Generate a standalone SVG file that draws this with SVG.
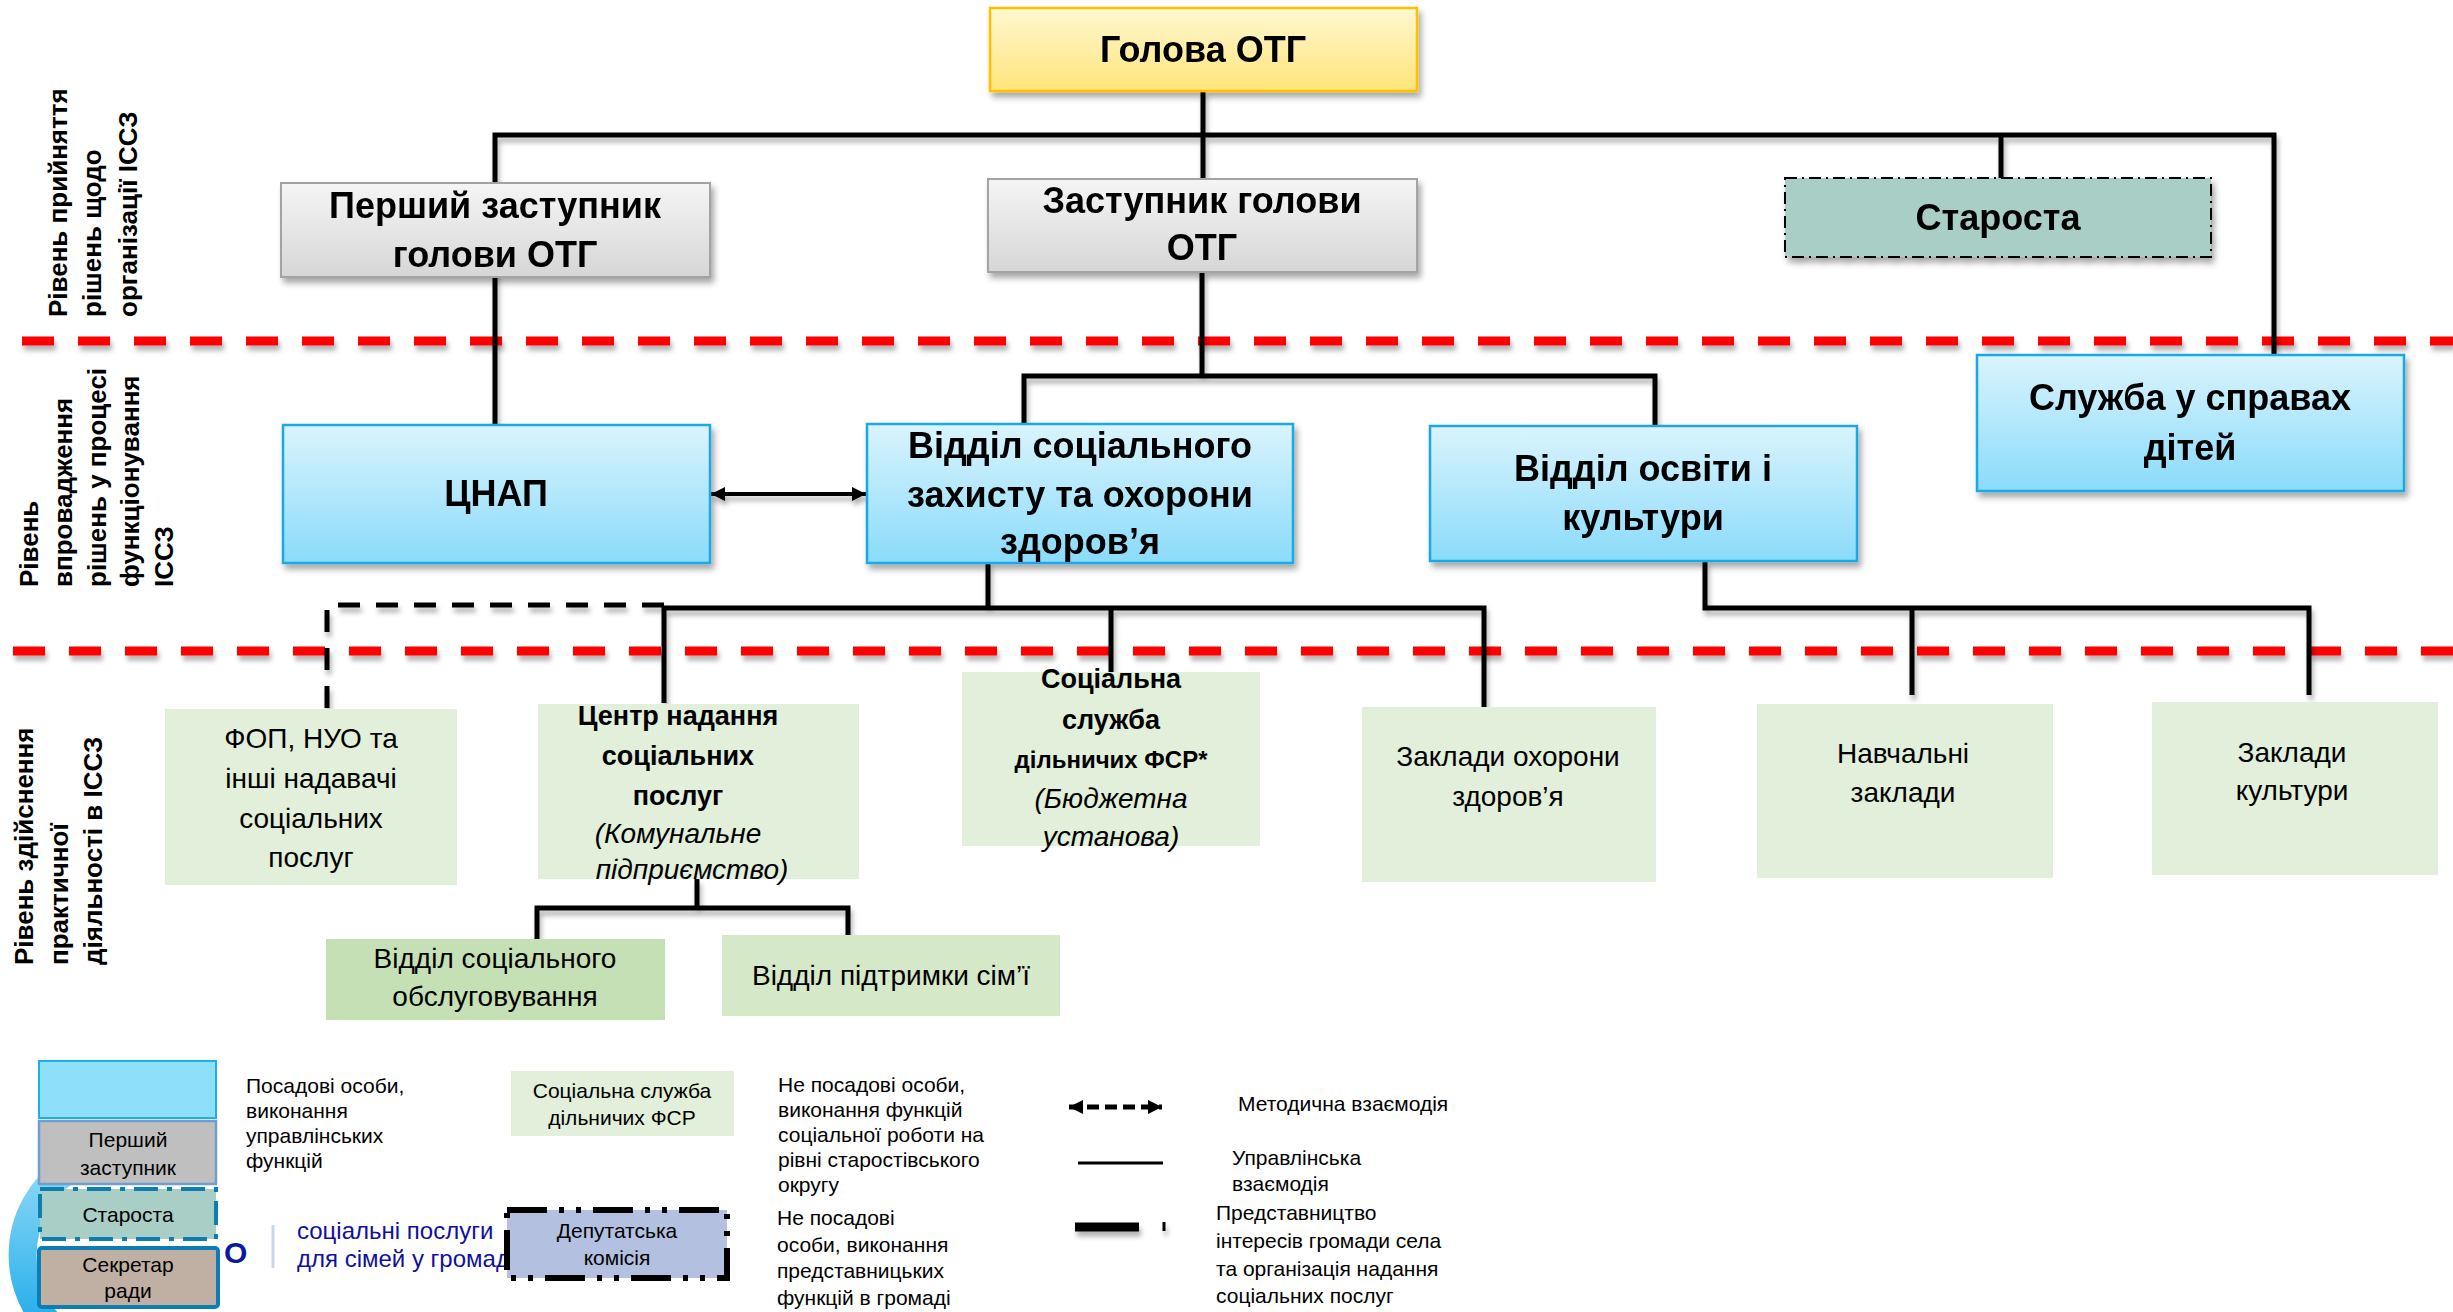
<svg xmlns="http://www.w3.org/2000/svg" width="2453" height="1312" viewBox="0 0 2453 1312">
<style>
text{font-family:"Liberation Sans",Arial,sans-serif;fill:#000}
.c{text-anchor:middle}
.hb{font-size:36px;font-weight:bold}
.b27{font-size:27px;font-weight:bold}
.b24{font-size:24px;font-weight:bold}
.r28{font-size:28px}
.i28{font-size:28px;font-style:italic}
.side{font-size:26px;font-weight:bold}
.lg{font-size:21px}
.logo{font-size:24px;fill:#1010A0}
.conn{fill:none;stroke:#000;stroke-width:5}
.blue{fill:url(#gBlue);stroke:#1AA8E2;stroke-width:2.5}
.grey{fill:url(#gGrey);stroke:#A3A3A3;stroke-width:2}
.green{fill:#E2EFDA}
.red{stroke:#FF0000;stroke-width:9;stroke-dasharray:32 24}
</style>
<defs>
<linearGradient id="gBlue" x1="0" y1="0" x2="0" y2="1"><stop offset="0" stop-color="#DAF4FD"/><stop offset="1" stop-color="#8ADBFA"/></linearGradient>
<linearGradient id="gGrey" x1="0" y1="0" x2="0" y2="1"><stop offset="0" stop-color="#F5F5F5"/><stop offset="1" stop-color="#D6D6D6"/></linearGradient>
<linearGradient id="gYellow" x1="0" y1="0" x2="0" y2="1"><stop offset="0" stop-color="#FFF8D2"/><stop offset="1" stop-color="#FFE47A"/></linearGradient>
<linearGradient id="gArc" x1="0" y1="0" x2="0" y2="1"><stop offset="0" stop-color="#8AD8F6"/><stop offset="1" stop-color="#1AA9E9"/></linearGradient>
<filter id="sh" x="-10%" y="-10%" width="130%" height="140%"><feDropShadow dx="3" dy="5" stdDeviation="3" flood-color="#000" flood-opacity="0.35"/></filter>
<filter id="lsh" filterUnits="userSpaceOnUse" x="0" y="0" width="2453" height="1312"><feDropShadow dx="2" dy="5" stdDeviation="2.5" flood-color="#000" flood-opacity="0.3"/></filter>
<marker id="ah" viewBox="0 0 10 10" refX="10" refY="5" markerWidth="4" markerHeight="3.5" orient="auto-start-reverse"><path d="M0,0 L10,5 L0,10 z" fill="#000"/></marker>
<marker id="ah2" viewBox="0 0 10 10" refX="10" refY="5" markerWidth="3" markerHeight="2.8" orient="auto-start-reverse"><path d="M0,0 L10,5 L0,10 z" fill="#000"/></marker>
</defs>
<rect width="2453" height="1312" fill="#fff"/>

<!-- level separators -->
<g id="separators" filter="url(#lsh)">
<line class="red" x1="22" y1="341" x2="2453" y2="341"/>
<line class="red" x1="13" y1="651" x2="2453" y2="651"/>
</g>

<!-- side labels -->
<g id="label-level1" class="side">
<text transform="translate(67,317) rotate(-90)">Рівень прийняття</text>
<text transform="translate(101,317) rotate(-90)">рішень щодо</text>
<text transform="translate(137,317) rotate(-90)">організації ІССЗ</text>
</g>
<g id="label-level2" class="side">
<text transform="translate(38,587) rotate(-90)">Рівень</text>
<text transform="translate(72,587) rotate(-90)">впровадження</text>
<text transform="translate(106,587) rotate(-90)">рішень у процесі</text>
<text transform="translate(139,587) rotate(-90)">функціонування</text>
<text transform="translate(173,587) rotate(-90)">ІССЗ</text>
</g>
<g id="label-level3" class="side">
<text transform="translate(33,965) rotate(-90)">Рівень здійснення</text>
<text transform="translate(68,965) rotate(-90)">практичної</text>
<text transform="translate(102,965) rotate(-90)">діяльності в ІССЗ</text>
</g>

<!-- connectors -->
<g id="connectors" filter="url(#lsh)">
<path class="conn" d="M495 425 V135 H2274 V355"/>
<path class="conn" d="M1203 91 V179"/>
<path class="conn" d="M2001 135 V178"/>
<path class="conn" d="M1202 272 V376"/>
<path class="conn" d="M1024 425 V376 H1655 V426"/>
<path class="conn" d="M988 563 V608"/>
<path class="conn" d="M664 703 V608 H1484 V707"/>
<path class="conn" d="M1111 608 V672"/>
<path class="conn" d="M664 605 H327 V709" stroke-dasharray="22 16"/>
<path class="conn" d="M1705 561 V608 H2309 V695"/>
<path class="conn" d="M1912 608 V695"/>
<path class="conn" d="M697 879 V908"/>
<path class="conn" d="M537 939 V908 H848 V935"/>
<line x1="711" y1="494" x2="866" y2="494" stroke="#000" stroke-width="4" marker-start="url(#ah)" marker-end="url(#ah)"/>
</g>

<!-- level 1 -->
<g id="holova" filter="url(#sh)">
<rect x="990" y="8" width="427" height="83" fill="url(#gYellow)" stroke="#FFC000" stroke-width="2.5"/>
<text class="c hb" x="1203" y="62">Голова ОТГ</text>
</g>
<g id="pershyi-zastupnyk" filter="url(#sh)">
<rect class="grey" x="281" y="183" width="429" height="94"/>
<text class="c hb" x="495" y="218">Перший заступник</text>
<text class="c hb" x="495" y="267">голови ОТГ</text>
</g>
<g id="zastupnyk" filter="url(#sh)">
<rect class="grey" x="988" y="179" width="429" height="93"/>
<text class="c hb" x="1202" y="213">Заступник голови</text>
<text class="c hb" x="1202" y="260">ОТГ</text>
</g>
<g id="starosta" filter="url(#sh)">
<rect x="1785" y="178" width="426" height="79" fill="#A8CEC5" stroke="#000" stroke-width="2" stroke-dasharray="12 5 2 5"/>
<text class="c hb" x="1998" y="230">Староста</text>
</g>

<!-- level 2 -->
<g id="sluzhba-dity" filter="url(#sh)">
<rect class="blue" x="1977" y="355" width="427" height="136"/>
<text class="c hb" x="2190" y="410">Служба у справах</text>
<text class="c hb" x="2190" y="460">дітей</text>
</g>
<g id="cnap" filter="url(#sh)">
<rect class="blue" x="283" y="425" width="427" height="138"/>
<text class="c hb" x="496" y="506">ЦНАП</text>
</g>
<g id="viddil-soczakhyst" filter="url(#sh)">
<rect class="blue" x="867" y="424" width="426" height="139"/>
<text class="c hb" x="1080" y="458">Відділ соціального</text>
<text class="c hb" x="1080" y="507">захисту та охорони</text>
<text class="c hb" x="1080" y="554">здоров’я</text>
</g>
<g id="viddil-osvity" filter="url(#sh)">
<rect class="blue" x="1430" y="426" width="427" height="135"/>
<text class="c hb" x="1643" y="481">Відділ освіти і</text>
<text class="c hb" x="1643" y="530">культури</text>
</g>

<!-- level 3 -->
<g id="fop">
<rect class="green" x="165" y="709" width="292" height="176"/>
<text class="c r28" x="311" y="748">ФОП, НУО та</text>
<text class="c r28" x="311" y="788">інші надавачі</text>
<text class="c r28" x="311" y="828">соціальних</text>
<text class="c r28" x="311" y="867">послуг</text>
</g>
<g id="centr-nadannia">
<rect class="green" x="538" y="704" width="321" height="175"/>
<text class="c b27" x="678" y="725">Центр надання</text>
<text class="c b27" x="678" y="765">соціальних</text>
<text class="c b27" x="678" y="805">послуг</text>
<text class="c i28" x="678" y="843">(Комунальне</text>
<text class="c i28" x="692" y="879">підприємство)</text>
</g>
<g id="socsluzhba-fsr">
<rect class="green" x="962" y="672" width="298" height="174"/>
<text class="c b27" x="1111" y="688">Соціальна</text>
<text class="c b27" x="1111" y="729">служба</text>
<text class="c b24" x="1111" y="768">дільничих ФСР*</text>
<text class="c i28" x="1111" y="808">(Бюджетна</text>
<text class="c i28" x="1111" y="846">установа)</text>
</g>
<g id="zaklady-okhorony">
<rect class="green" x="1362" y="707" width="294" height="175"/>
<text class="c r28" x="1508" y="766">Заклади охорони</text>
<text class="c r28" x="1508" y="806">здоров’я</text>
</g>
<g id="navchalni-zaklady">
<rect class="green" x="1757" y="704" width="296" height="174"/>
<text class="c r28" x="1903" y="763">Навчальні</text>
<text class="c r28" x="1903" y="802">заклади</text>
</g>
<g id="zaklady-kultury">
<rect class="green" x="2152" y="702" width="286" height="173"/>
<text class="c r28" x="2292" y="762">Заклади</text>
<text class="c r28" x="2292" y="800">культури</text>
</g>
<g id="viddil-obslugovuvannia">
<rect x="326" y="939" width="339" height="81" fill="#C5E0B4"/>
<text class="c r28" x="495" y="968">Відділ соціального</text>
<text class="c r28" x="495" y="1006">обслуговування</text>
</g>
<g id="viddil-pidtrymky">
<rect x="722" y="935" width="338" height="81" fill="#D5E8C8"/>
<text class="c r28" x="891" y="985">Відділ підтримки сім’ї</text>
</g>

<!-- logo fragments -->
<g id="logo">
<path d="M66 1171 A103 103 0 0 0 66 1339" fill="none" stroke="url(#gArc)" stroke-width="28"/>
<text x="224" y="1263" font-size="30" font-weight="bold" style="fill:#0A1A9A">О</text>
<line x1="273" y1="1225" x2="273" y2="1268" stroke="#C8D8E8" stroke-width="3"/>
<text class="logo" x="297" y="1239">соціальні послуги</text>
<text class="logo" x="297" y="1267">для сімей у громад</text>
</g>

<!-- legend -->
<g id="legend">
<rect x="39" y="1061" width="177" height="57" fill="#8EDFFA" stroke="#1AB0E8" stroke-width="2"/>
<rect x="39" y="1121" width="177" height="63" fill="#BFBFBF" stroke="#6E9FD0" stroke-width="2.5"/>
<text class="c lg" x="128" y="1147">Перший</text>
<text class="c lg" x="128" y="1175">заступник</text>
<rect x="40" y="1189" width="176" height="50" fill="#A8CEC5" stroke="#0C7FB0" stroke-width="4" stroke-dasharray="24 9 5 9"/>
<text class="c lg" x="128" y="1222">Староста</text>
<rect x="39" y="1248" width="179" height="59" rx="3" fill="#BFB0A3" stroke="#0E7DB3" stroke-width="4"/>
<text class="c lg" x="128" y="1272">Секретар</text>
<text class="c lg" x="128" y="1298">ради</text>

<text class="lg" x="246" y="1093">Посадові особи,</text>
<text class="lg" x="246" y="1118">виконання</text>
<text class="lg" x="246" y="1143">управлінських</text>
<text class="lg" x="246" y="1168">функцій</text>

<rect x="511" y="1071" width="223" height="65" fill="#E2EFDA"/>
<text class="c lg" x="622" y="1098">Соціальна служба</text>
<text class="c lg" x="622" y="1125">дільничих ФСР</text>

<rect x="507" y="1210" width="220" height="68" fill="#B4C0E0" stroke="#000" stroke-width="6" stroke-dasharray="40 12 5 12 5 12"/>
<text class="c lg" x="617" y="1238">Депутатська</text>
<text class="c lg" x="617" y="1265">комісія</text>

<text class="lg" x="778" y="1092">Не посадові особи,</text>
<text class="lg" x="778" y="1117">виконання функцій</text>
<text class="lg" x="778" y="1142">соціальної роботи на</text>
<text class="lg" x="778" y="1167">рівні старостівського</text>
<text class="lg" x="778" y="1192">округу</text>

<text class="lg" x="777" y="1225">Не посадові</text>
<text class="lg" x="777" y="1252">особи, виконання</text>
<text class="lg" x="777" y="1278">представницьких</text>
<text class="lg" x="777" y="1305">функцій в громаді</text>

<line x1="1069" y1="1107" x2="1162" y2="1107" stroke="#000" stroke-width="5" stroke-dasharray="12 6" marker-start="url(#ah2)" marker-end="url(#ah2)"/>
<line x1="1078" y1="1163" x2="1163" y2="1163" stroke="#000" stroke-width="3"/>
<g filter="url(#lsh)">
<line x1="1075" y1="1227" x2="1139" y2="1227" stroke="#000" stroke-width="9"/>
<line x1="1164" y1="1222" x2="1164" y2="1231" stroke="#000" stroke-width="3"/>
</g>

<text class="lg" x="1238" y="1111">Методична взаємодія</text>
<text class="lg" x="1232" y="1165">Управлінська</text>
<text class="lg" x="1232" y="1191">взаємодія</text>
<text class="lg" x="1216" y="1220">Представництво</text>
<text class="lg" x="1216" y="1248">інтересів громади села</text>
<text class="lg" x="1216" y="1276">та організація надання</text>
<text class="lg" x="1216" y="1303">соціальних послуг</text>
</g>
</svg>
